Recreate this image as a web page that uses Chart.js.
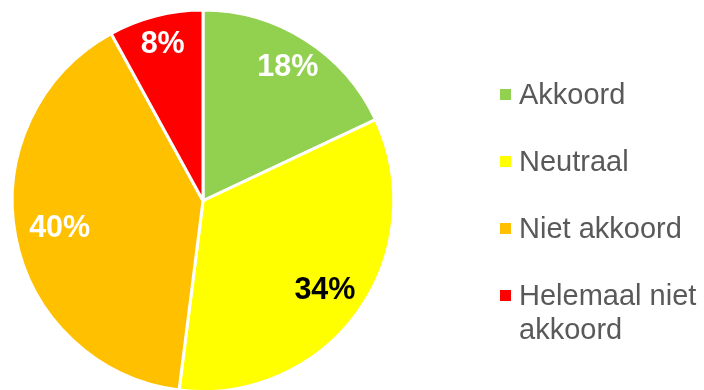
<!DOCTYPE html>
<html>
<head>
<meta charset="utf-8">
<script src="https://cdn.jsdelivr.net/npm/chart.js@4.4.1/dist/chart.umd.min.js"></script>
<style>
  html, body { margin: 0; padding: 0; background: #fff; overflow: hidden; }
  #wrap { width: 704px; height: 390px; overflow: hidden; position: relative; }
  canvas { display: block; }
</style>
</head>
<body>
<div id="wrap"><canvas id="c" width="704" height="410"></canvas></div>
<script>
const categories = ["Akkoord", "Neutraal", "Niet akkoord", "Helemaal niet akkoord"];
const legendLines = [["Akkoord"], ["Neutraal"], ["Niet akkoord"], ["Helemaal niet", "akkoord"]];
const values = [18, 34, 40, 8];
const valueLabels = ["18%", "34%", "40%", "8%"];
const sliceColors = ["#92D050", "#FFFF00", "#FFC000", "#FF0000"];
const labelColors = ["#FFFFFF", "#000000", "#FFFFFF", "#FFFFFF"];

const FONT = '"Liberation Sans", Arial, sans-serif';

const customDraw = {
  id: 'customDraw',
  afterDraw(chart, args, opts) {
    const ctx = chart.ctx;
    const meta = chart.getDatasetMeta(0);
    ctx.save();
    ctx.font = 'bold 30.5px ' + FONT;
    ctx.textAlign = 'center';
    ctx.textBaseline = 'middle';
    meta.data.forEach((arc, i) => {
      const p = arc.getProps(['x', 'y', 'startAngle', 'endAngle', 'outerRadius'], true);
      const mid = (p.startAngle + p.endAngle) / 2;
      const r = p.outerRadius * opts.labelRadius[i];
      ctx.fillStyle = labelColors[i];
      ctx.fillText(valueLabels[i], p.x + Math.cos(mid) * r, p.y + Math.sin(mid) * r + 1);
    });
    ctx.textAlign = 'left';
    ctx.textBaseline = 'alphabetic';
    ctx.font = '29px ' + FONT;
    let y = opts.legendTop;
    legendLines.forEach((lines, i) => {
      ctx.fillStyle = sliceColors[i];
      ctx.fillRect(opts.legendX, y - 15, 11, 11);
      ctx.fillStyle = '#595959';
      lines.forEach((ln, j) => {
        ctx.fillText(ln, opts.legendX + 19, y + j * opts.lineGap);
      });
      y += opts.itemGap;
    });
    ctx.restore();
  }
};

new Chart(document.getElementById('c'), {
  type: 'pie',
  data: {
    labels: categories,
    datasets: [{
      data: values,
      backgroundColor: sliceColors,
      borderColor: '#FFFFFF',
      borderWidth: 3
    }]
  },
  options: {
    responsive: false,
    animation: false,
    layout: { padding: { left: 10.5, top: 8.5, right: 308.5, bottom: 17 } },
    plugins: {
      legend: { display: false },
      tooltip: { enabled: false },
      customDraw: {
        labelRadius: [0.83, 0.79, 0.765, 0.85],
        legendX: 500,
        legendTop: 104,
        itemGap: 67,
        lineGap: 34
      }
    }
  },
  plugins: [customDraw]
});
</script>
</body>
</html>
